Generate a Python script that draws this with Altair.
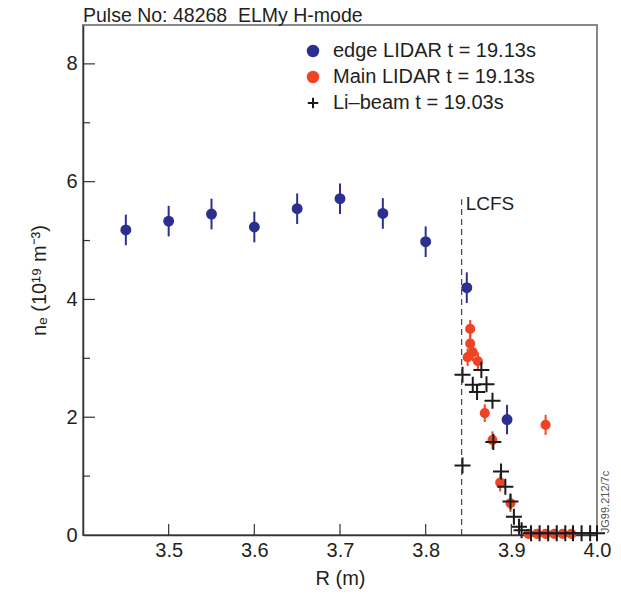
import altair as alt
import pandas as pd

# ---------------- data ----------------
series_names = ["edge LIDAR t = 19.13s", "Main LIDAR t = 19.13s", "Li\u2013beam t = 19.03s"]

edge_R = [3.45, 3.50, 3.55, 3.60, 3.65, 3.70, 3.75, 3.80, 3.848, 3.895]
edge_ne = [5.18, 5.33, 5.45, 5.23, 5.54, 5.71, 5.46, 4.98, 4.20, 1.96]
edge_err = [0.26, 0.26, 0.26, 0.26, 0.26, 0.26, 0.26, 0.26, 0.26, 0.25]

main_R = [3.852, 3.852, 3.855, 3.849, 3.861, 3.869, 3.878, 3.887, 3.899, 3.940,
          3.920, 3.930, 3.940, 3.950, 3.960, 3.970]
main_ne = [3.50, 3.25, 3.10, 3.02, 2.95, 2.07, 1.61, 0.89, 0.54, 1.87,
           0.02, 0.02, 0.02, 0.02, 0.02, 0.02]
main_err = [0.15, 0.15, 0.15, 0.15, 0.15, 0.15, 0.15, 0.15, 0.15, 0.17,
            0.0, 0.0, 0.0, 0.0, 0.0, 0.0]

li_R = [3.843, 3.855, 3.860, 3.865, 3.871, 3.878, 3.879, 3.843, 3.888, 3.893,
        3.899, 3.903, 3.909, 3.912, 3.923, 3.933, 3.943, 3.953, 3.963, 3.972,
        3.982, 3.992, 4.000]
li_ne = [2.72, 2.55, 2.43, 2.80, 2.56, 2.28, 1.58, 1.18, 1.08, 0.82,
         0.57, 0.31, 0.14, 0.08, 0.03, 0.03, 0.03, 0.03, 0.03, 0.03,
         0.03, 0.03, 0.03]

lcfs_R = [3.842]
lcfs_bottom = [0.0]
lcfs_top = [5.7]
lcfs_label_ne = [5.62]

x_label_values = [3.5, 3.6, 3.7, 3.8, 3.9, 4.0]
x_tick_values = [3.5, 3.6, 3.7, 3.8, 3.9]
y_label_values = [0, 2, 4, 6, 8]
y_major_ticks = [2, 4, 6, 8]
y_minor_ticks = [1, 3, 5, 7]

# ---------------- styling ----------------
FONT = "Liberation Sans"
TXT = "#231F20"
stroke_colors = ["#2B3090", "#EE4425", "#1A1A1A"]
fill_colors = ["#2B3090", "#EE4425", "transparent"]
shapes = ["circle", "circle", "M-1,0H1M0,-1V1"]
sizes = [80, 66, 256]
W, H = 514, 510

rows = []
for R, n, e in zip(edge_R, edge_ne, edge_err):
    rows.append(dict(R=R, ne=n, lo=n - e, hi=n + e, series=series_names[0]))
for R, n, e in zip(main_R, main_ne, main_err):
    rows.append(dict(R=R, ne=n, lo=n - e, hi=n + e, series=series_names[1]))
for R, n in zip(li_R, li_ne):
    rows.append(dict(R=R, ne=n, lo=n, hi=n, series=series_names[2]))
df = pd.DataFrame(rows)

xs = alt.Scale(domain=[3.4, 4.0], nice=False, zero=False)
ys = alt.Scale(domain=[0, 8.66], nice=False, zero=False)

xaxis = alt.Axis(title="R (m)", values=x_label_values, format=".1f", ticks=False,
                 labelFlush=False, labelOverlap=False, grid=False,
                 labelFont=FONT, labelFontSize=20, labelColor=TXT, labelPadding=5,
                 titleFont=FONT, titleFontSize=20, titleFontWeight="normal",
                 titleColor=TXT, titlePadding=8, domainColor="#333", domainWidth=1.5)
yaxis = alt.Axis(title="n\u2091 (10\u00b9\u2079 m\u207b\u00b3)", values=y_label_values, ticks=False,
                 grid=False, labelFont=FONT, labelFontSize=20, labelColor=TXT,
                 labelPadding=6, titleFont=FONT, titleFontSize=20,
                 titleFontWeight="normal", titleColor=TXT, titlePadding=16,
                 domainColor="#333", domainWidth=1.5)


def X(f):
    return alt.X(f, type="quantitative", scale=xs, axis=xaxis)


def Y(f):
    return alt.Y(f, type="quantitative", scale=ys, axis=yaxis)


leg = alt.Legend(title=None, orient="none", legendX=220, legendY=16,
                 labelFont=FONT, labelFontSize=20, labelColor=TXT, labelLimit=400,
                 symbolStrokeWidth=2, symbolSize=110, rowPadding=6, labelOffset=10)

stroke_scale = alt.Scale(domain=series_names, range=stroke_colors)
fill_scale = alt.Scale(domain=series_names, range=fill_colors)
shape_scale = alt.Scale(domain=series_names, range=shapes)

err = alt.Chart(df[df.hi > df.lo]).mark_rule(strokeWidth=2).encode(
    x=X("R"), y=Y("lo"), y2="hi:Q",
    stroke=alt.Stroke("series:N", scale=stroke_scale, legend=leg),
)

point_layers = []
for name, sz in zip(series_names, sizes):
    point_layers.append(
        alt.Chart(df[df.series == name]).mark_point(filled=False, strokeWidth=2, opacity=1, size=sz).encode(
            x=X("R"), y=Y("ne"),
            stroke=alt.Stroke("series:N", scale=stroke_scale, legend=leg),
            fill=alt.Fill("series:N", scale=fill_scale, legend=leg),
            shape=alt.Shape("series:N", scale=shape_scale, legend=leg),
        )
    )

lcfs_df = pd.DataFrame({"R": lcfs_R, "lo": lcfs_bottom, "hi": lcfs_top,
                        "ne": lcfs_label_ne, "label": ["LCFS"]})
lcfs = alt.Chart(lcfs_df).mark_rule(color="#444", strokeWidth=1.2, strokeDash=[6, 4]).encode(
    x=X("R"), y=Y("lo"), y2="hi:Q")
lcfs_txt = alt.Chart(lcfs_df).mark_text(align="left", baseline="middle", dx=4,
                                        font=FONT, fontSize=19, color=TXT).encode(
    x=X("R"), y=Y("ne"), text="label:N")

ymaj = alt.Chart(pd.DataFrame({"ne": y_major_ticks})).mark_rule(color="#333", strokeWidth=1.2).encode(
    y=Y("ne"), x=alt.value(0), x2=alt.value(12))
ymin = alt.Chart(pd.DataFrame({"ne": y_minor_ticks})).mark_rule(color="#333", strokeWidth=1.2).encode(
    y=Y("ne"), x=alt.value(0), x2=alt.value(7))
xtk = alt.Chart(pd.DataFrame({"R": x_tick_values})).mark_rule(color="#333", strokeWidth=1.2).encode(
    x=X("R"), y=alt.value(H), y2=alt.value(H - 11))

jg = alt.Chart(pd.DataFrame({"t": ["JG99.212/7c"]})).mark_text(
    angle=270, font=FONT, fontSize=11, color="#555", align="center", baseline="middle").encode(
    x=alt.value(W + 9), y=alt.value(H - 33), text="t:N")

chart = alt.layer(err, *point_layers, lcfs, lcfs_txt, ymaj, ymin, xtk, jg).properties(
    width=W, height=H,
    autosize="none",
    padding={"left": 75, "top": 17, "right": 16, "bottom": 54},
    title=alt.TitleParams("Pulse No: 48268\u00a0 ELMy H-mode", anchor="start", frame="group",
                          font=FONT, fontSize=19.5, fontWeight="normal",
                          color=TXT, offset=-1),
).configure_view(stroke="#888", strokeWidth=2)

chart.save("out.html", embed_options={"renderer": "svg", "actions": False})
